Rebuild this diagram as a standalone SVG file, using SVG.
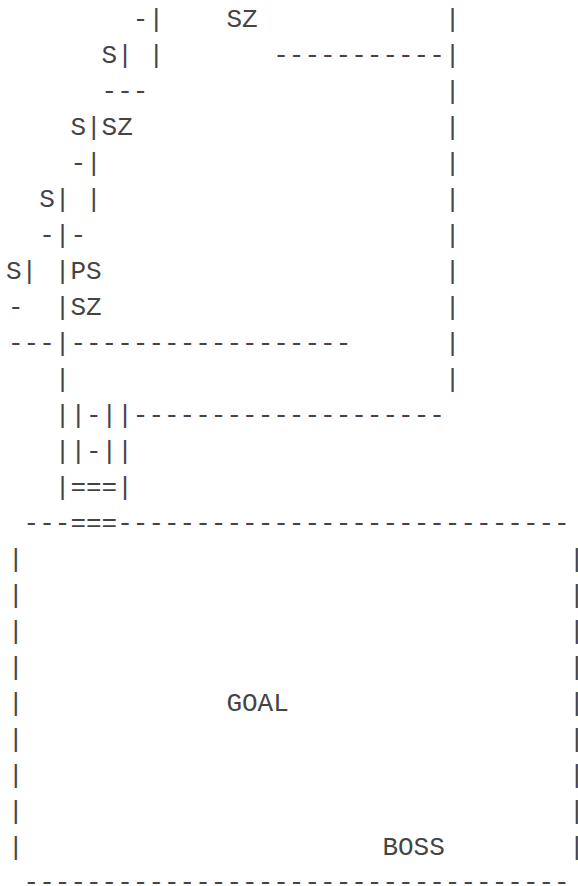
<svg xmlns="http://www.w3.org/2000/svg" width="578" height="886" viewBox="0 0 578 886">
<style>
text{font-family:"Liberation Mono","Courier New",monospace;font-size:26px;fill:#444;white-space:pre}
text.r{letter-spacing:-8px}
</style>
<rect width="578" height="886" fill="#fff"/>
<g id="maze">
<text x="132.8" y="27">-|</text><text x="226.4" y="27">SZ</text><text x="444.8" y="27">|</text>
<text x="101.6" y="63">S|</text><text x="148.4" y="63">|</text><text x="273.2" y="63">-----------|</text>
<text x="101.6" y="99">---</text><text x="444.8" y="99">|</text>
<text x="70.4" y="135">S|SZ</text><text x="444.8" y="135">|</text>
<text x="70.4" y="171">-|</text><text x="444.8" y="171">|</text>
<text x="39.2" y="207">S|</text><text x="86" y="207">|</text><text x="444.8" y="207">|</text>
<text x="39.2" y="243">-|-</text><text x="444.8" y="243">|</text>
<text x="6" y="279">S|</text><text x="54.8" y="279">|PS</text><text x="444.8" y="279">|</text>
<text x="8" y="315">-</text><text x="54.8" y="315">|SZ</text><text x="444.8" y="315">|</text>
<text x="8" y="351">---|------------------</text><text x="444.8" y="351">|</text>
<text x="54.8" y="387">|</text><text x="444.8" y="387">|</text>
<text x="54.8" y="423">||-||--------------------</text>
<text x="54.8" y="459">||-||</text>
<text x="54.8" y="495">|===|</text>
</g>
<g id="goal-room">
<text x="23.6" y="531">---===-----------------------------</text>
<text x="8" y="567">|</text><text class="r" x="569" y="567">|</text>
<text x="8" y="603">|</text><text class="r" x="569" y="603">|</text>
<text x="8" y="639">|</text><text class="r" x="569" y="639">|</text>
<text x="8" y="675">|</text><text class="r" x="569" y="675">|</text>
<text x="8" y="711">|</text><text x="226.4" y="711">GOAL</text><text class="r" x="569" y="711">|</text>
<text x="8" y="747">|</text><text class="r" x="569" y="747">|</text>
<text x="8" y="783">|</text><text class="r" x="569" y="783">|</text>
<text x="8" y="819">|</text><text class="r" x="569" y="819">|</text>
<text x="8" y="855">|</text><text x="382.4" y="855">BOSS</text><text class="r" x="569" y="855">|</text>
<text x="23.6" y="890">-----------------------------------</text>
</g>
</svg>
